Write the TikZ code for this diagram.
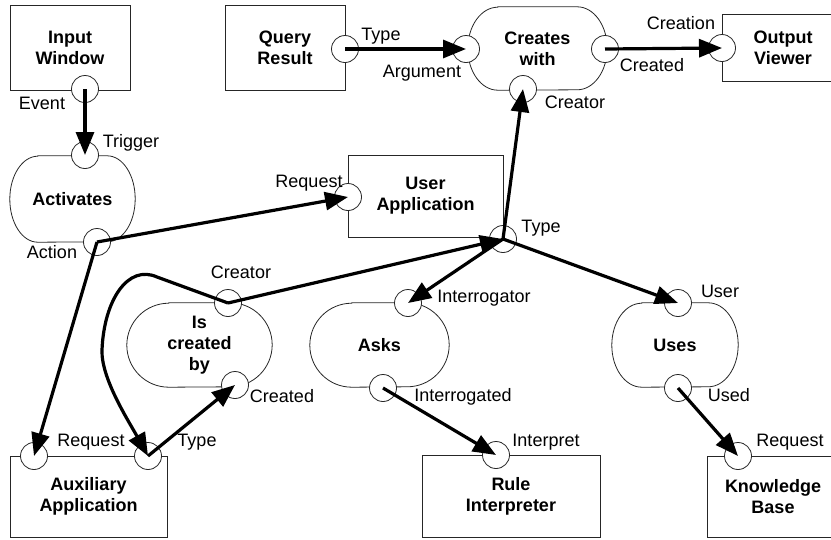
\documentclass[tikz,border=0pt]{standalone}
\usepackage{fontspec}
\setmainfont{Liberation Sans}
\usetikzlibrary{arrows.meta,calc}
\tikzset{
  thin line/.style={draw=black!85, line width=0.8pt},
  box/.style={thin line, inner sep=0pt, font=\fontsize{18}{21}\selectfont\bfseries, align=center},
  blob/.style={inner sep=0pt, font=\fontsize{18}{21}\selectfont\bfseries, align=center},
  port/.style={circle, thin line, fill=white, minimum size=27pt, inner sep=0pt},
  lab/.style={font=\fontsize{18}{21}\selectfont, inner sep=0pt, text height=13pt, text depth=4pt},
  conn/.style={line width=3.2pt, -{Triangle[length=23pt,width=18pt]}},
}
\newcommand\pillshape[3]{% node, x radius, y radius
  \draw[thin line] ([xshift=#2pt]#1.north west) -- ([xshift=-#2pt]#1.north east)
    arc[start angle=90,end angle=-90,x radius=#2pt,y radius=#3pt]
    -- ([xshift=#2pt]#1.south west)
    arc[start angle=270,end angle=90,x radius=#2pt,y radius=#3pt] -- cycle;}
\begin{document}
\begin{tikzpicture}[x=1pt,y=-1pt]
\clip (0,0) rectangle (831,539);
% boxes
\node[box, minimum width=120pt, minimum height=85pt] (iw) at (70,47.5) {Input\\Window};
\node[box, minimum width=120pt, minimum height=85pt] (qr) at (285,47.5) {Query\\Result};
\node[box, minimum width=122pt, minimum height=67pt] (ov) at (783,47.5) {Output\\Viewer};
\node[box, minimum width=155pt, minimum height=82pt] (ua) at (425.5,196) {User\\Application};
\node[box, minimum width=157pt, minimum height=81pt] (aux) at (88.5,496.5) {Auxiliary\\Application};
\node[box, minimum width=178pt, minimum height=82pt] (ri) at (511,496) {Rule\\Interpreter};
\node[box, minimum width=132pt, minimum height=81pt] (kb) at (773,496.5) {Knowledge\\Base};
% relation shapes
\node[blob, minimum width=139pt, minimum height=83pt] (cw) at (537.5,48.5) {Creates\\with};
\node[blob, minimum width=125pt, minimum height=86pt] (act) at (72.5,199) {Activates};
\node[blob, minimum width=145pt, minimum height=84pt] (icb) at (199.5,345) {Is\\created\\by};
\node[blob, minimum width=139pt, minimum height=84pt] (ask) at (379.5,345) {Asks};
\node[blob, minimum width=126pt, minimum height=84pt] (use) at (675,345) {Uses};
\pillshape{cw}{30}{41.5}
\pillshape{act}{28}{43}
\pillshape{icb}{42}{42}
\pillshape{ask}{42}{42}
\pillshape{use}{30}{42}
% ports
\node[port] (iwev) at (85,89) {};
\node[port] (acttr) at (85,155) {};
\node[port] (actac) at (97,242) {};
\node[port] (qrty) at (345,49) {};
\node[port] (cwar) at (466,49) {};
\node[port] (cwcd) at (605,49) {};
\node[port] (cwcr) at (523,89) {};
\node[port] (ovcn) at (722,48) {};
\node[port] (uarq) at (348,197) {};
\node[port] (uaty) at (503,239) {};
\node[port] (icbcr) at (228,303) {};
\node[port] (icbcd) at (235,385) {};
\node[port] (askir) at (408,303) {};
\node[port] (askid) at (383,388) {};
\node[port] (useu) at (678,303) {};
\node[port] (used) at (678,388) {};
\node[port] (auxrq) at (34,456) {};
\node[port] (auxty) at (148,456) {};
\node[port] (riip) at (496,455) {};
\node[port] (kbrq) at (738,456) {};
% labels
\node[lab] (lev) at (42,105) {Event};
\node[lab] (ltr) at (131,143) {Trigger};
\node[lab] (lqty) at (381,36) {Type};
\node[lab] (lar) at (422,73) {Argument};
\node[lab] (lcn) at (681,25) {Creation};
\node[lab] (lcd) at (652,67) {Created};
\node[lab] (lcr) at (575,104) {Creator};
\node[lab] (luarq) at (309,183) {Request};
\node[lab] (luaty) at (541,228) {Type};
\node[lab] (lac) at (52,254) {Action};
\node[lab] (licr) at (241,274) {Creator};
\node[lab] (licd) at (282,398) {Created};
\node[lab] (lauxrq) at (91,442) {Request};
\node[lab] (lauxty) at (197,442) {Type};
\node[lab] (lir) at (484,298) {Interrogator};
\node[lab] (lid) at (463,397) {Interrogated};
\node[lab] (lip) at (546,442) {Interpret};
\node[lab] (lus) at (720,293) {User};
\node[lab] (lud) at (729,397) {Used};
\node[lab] (lkbrq) at (790,442) {Request};
% connectors
\draw[conn] (iwev.center) -- (acttr.center);
\draw[conn] (actac.center) -- (uarq.center);
\draw[conn] (actac.center) -- (auxrq.center);
\draw[conn] (qrty.center) -- (cwar.center);
\draw[conn] (cwcd.center) -- (ovcn.center);
\draw[conn] (uaty.center) -- (cwcr.center);
\draw[conn] (icbcr.center) -- (uaty.center);
\draw[conn] (uaty.center) -- (askir.center);
\draw[conn] (uaty.center) -- (useu.center);
\draw[conn] (icbcr.center) -- (157,277) .. controls (128,264) and (104,300) .. (102,350) .. controls (101,378) and (128,420) .. (auxty.center);
\draw[conn] (auxty.center) -- (icbcd.center);
\draw[conn] (askid.center) -- (riip.center);
\draw[conn] (used.center) -- (kbrq.center);
\end{tikzpicture}
\end{document}
